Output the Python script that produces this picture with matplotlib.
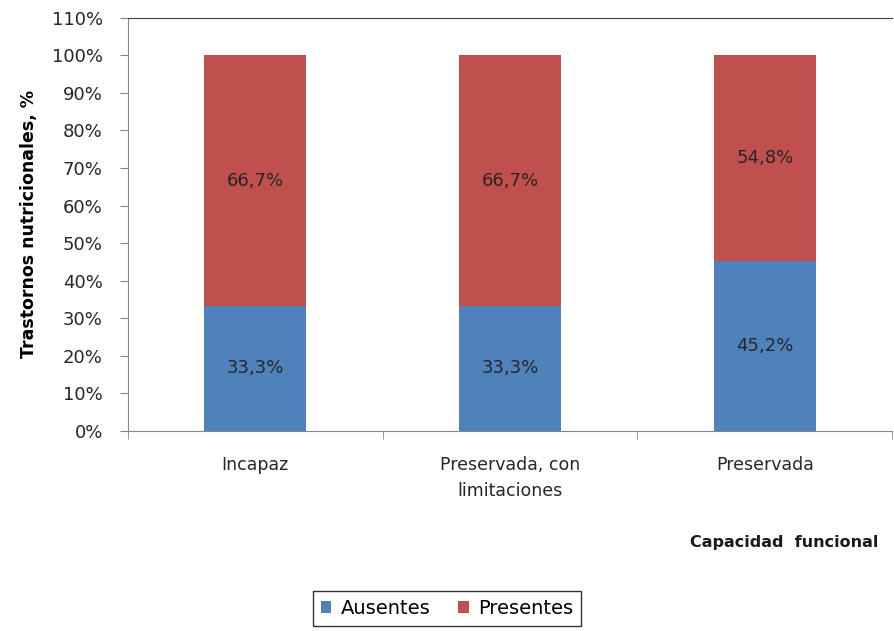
import numpy as np
import matplotlib
matplotlib.use("Agg")
import matplotlib.pyplot as plt
from matplotlib.ticker import FuncFormatter

plt.rcParams['font.family'] = ['DejaVu Sans']

categories = ["Incapaz", "Preservada, con\nlimitaciones", "Preservada"]
ausentes = [33.3, 33.3, 45.2]
presentes = [66.7, 66.7, 54.8]
series_names = ["Ausentes", "Presentes"]

fig = plt.figure(figsize=(8.94, 6.31), dpi=100)
ax = fig.add_axes([0.143, 0.317, 0.855, 0.655])

x = np.arange(len(categories))
b1 = ax.bar(x, ausentes, width=0.4, color="#4F81BD", label=series_names[0])
b2 = ax.bar(x, presentes, width=0.4, bottom=ausentes, color="#C0504D", label=series_names[1])

for bars, vals, bottoms in [(b1, ausentes, [0, 0, 0]), (b2, presentes, ausentes)]:
    for rect, v, b in zip(bars, vals, bottoms):
        ax.text(rect.get_x() + rect.get_width() / 2, b + v / 2,
                ("%.1f%%" % v).replace(".", ","), ha="center", va="center",
                fontsize=13, color="#262626")

ax.set_xlim(-0.5, len(categories) - 0.5)
ax.set_ylim(0, 110)
ax.set_yticks(np.arange(0, 111, 10))
ax.yaxis.set_major_formatter(FuncFormatter(lambda v, p: "%d%%" % v))
ax.set_xticks(x)
ax.set_xticklabels(categories, fontsize=12.5, color="#262626", linespacing=1.6)
ax.set_xticks(np.arange(-0.5, len(categories), 1), minor=True)
ax.tick_params(axis="x", which="major", length=0, pad=18)
ax.tick_params(axis="x", which="minor", length=6, color="#868686")
ax.tick_params(axis="y", labelsize=13, labelcolor="#262626", length=6, color="#868686", pad=12)

for s in ["left", "bottom"]:
    ax.spines[s].set_color("#868686")
ax.spines["top"].set_color("#404040")
ax.spines["right"].set_visible(False)

ax.set_ylabel("Trastornos nutricionales, %", fontsize=12.5, fontweight="bold", labelpad=10)
fig.text(0.983, 0.14, "Capacidad  funcional", fontsize=11.5, fontweight="bold",
         ha="right", va="center", color="#1a1a1a")

leg = fig.legend(handles=[b1, b2], loc="center", bbox_to_anchor=(0.5, 0.036), ncol=2,
                 fontsize=14, frameon=True, fancybox=False, edgecolor="black",
                 handlelength=0.55, handleheight=0.55, columnspacing=1.4, handletextpad=0.5,
                 borderpad=0.4, borderaxespad=0)
leg.get_frame().set_linewidth(1.0)
leg._legend_box.sep = 4

fig.savefig("out.png", dpi=100, facecolor="white")
